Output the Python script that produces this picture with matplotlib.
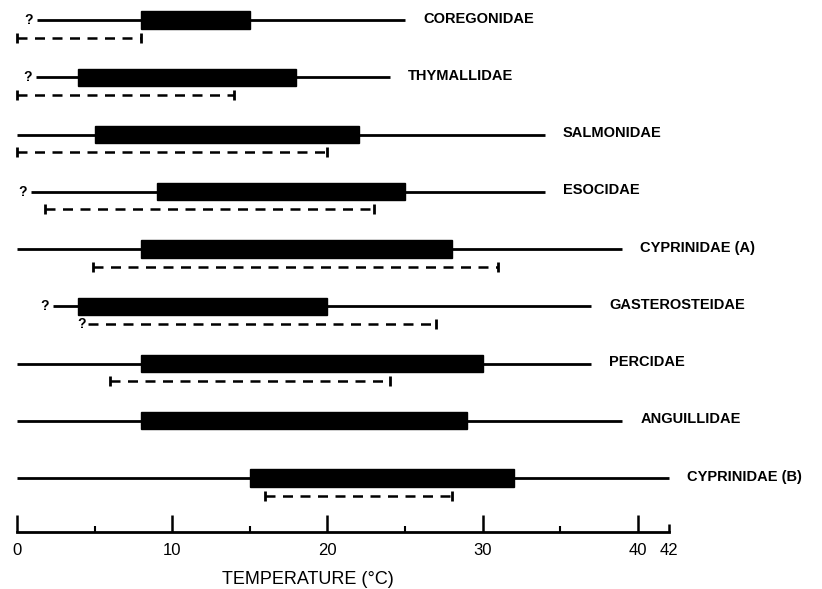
import matplotlib
matplotlib.use("Agg")
import matplotlib.pyplot as plt

families = ["COREGONIDAE", "THYMALLIDAE", "SALMONIDAE", "ESOCIDAE",
            "CYPRINIDAE (A)", "GASTEROSTEIDAE", "PERCIDAE", "ANGUILLIDAE",
            "CYPRINIDAE (B)"]
range_min = [1.3, 1.2, 0.0, 0.9, 0.0, 2.3, 0.0, 0.0, 0.0]
range_max = [25.0, 24.0, 34.0, 34.0, 39.0, 37.0, 37.0, 39.0, 42.0]
range_min_uncertain = [True, True, False, True, False, True, False, False, False]
opt_min = [8.0, 3.9, 5.0, 9.0, 8.0, 3.9, 8.0, 8.0, 15.0]
opt_max = [15.0, 18.0, 22.0, 25.0, 28.0, 20.0, 30.0, 29.0, 32.0]
spawn_min = [0.0, 0.0, 0.0, 1.8, 4.9, 4.6, 6.0, None, 16.0]
spawn_max = [8.0, 14.0, 20.0, 23.0, 31.0, 27.0, 24.0, None, 28.0]
spawn_min_uncertain = [False, False, False, False, False, True, False, False, False]

major_ticks = [0, 10, 20, 30, 40, 42]
minor_ticks = [5, 15, 25, 35]

fig = plt.figure(figsize=(8.22, 5.89), dpi=100)
W, H = 822, 589
x0_px, x42_px, axis_px = 17, 669, 532
ax = fig.add_axes([x0_px / W, 1 - axis_px / H, (x42_px - x0_px) / W, axis_px / H])

row_step_px = 57.25
row0_px = 20
ax.set_xlim(0, 42)
ax.set_ylim((axis_px - row0_px) / row_step_px, -row0_px / row_step_px)

dash_off = 0.31
bar_h = 0.30
lw = 2.0
qfont = dict(fontsize=10, fontweight="bold", family="Liberation Sans")

for i, fam in enumerate(families):
    y = i
    ax.plot([range_min[i], range_max[i]], [y, y], color="black", lw=lw,
            solid_capstyle="butt", clip_on=False)
    ax.barh(y, opt_max[i] - opt_min[i], left=opt_min[i], height=bar_h,
            color="black", edgecolor="black", clip_on=False)
    if range_min_uncertain[i]:
        ax.annotate("?", (range_min[i], y), xytext=(-3, 0),
                    textcoords="offset points", ha="right", va="center", **qfont)
    ax.annotate(fam, (range_max[i], y), xytext=(13, 1),
                textcoords="offset points", ha="left", va="center",
                fontsize=10.5, fontweight="bold", family="Liberation Sans",
                annotation_clip=False)
    if spawn_min[i] is not None:
        yd = y + dash_off
        ax.plot([spawn_min[i], spawn_max[i]], [yd, yd], color="black", lw=1.8,
                linestyle=(0, (4, 3)), clip_on=False)
        if spawn_min_uncertain[i]:
            ax.annotate("?", (spawn_min[i], yd), xytext=(-2, 0),
                        textcoords="offset points", ha="right", va="center", **qfont)
        else:
            ax.plot([spawn_min[i]], [yd], marker="|", markersize=7, mew=2,
                    color="black", clip_on=False)
        ax.plot([spawn_max[i]], [yd], marker="|", markersize=7, mew=2,
                color="black", clip_on=False)

for s in ["top", "right", "left"]:
    ax.spines[s].set_visible(False)
ax.spines["bottom"].set_linewidth(2)
ax.set_yticks([])
ax.set_xticks(major_ticks)
ax.set_xticks(minor_ticks, minor=True)
ax.set_xticklabels([str(t) for t in major_ticks], fontsize=12, family="Liberation Sans")
ax.tick_params(axis="x", which="major", direction="in", length=12, width=1.8, pad=8)
ax.tick_params(axis="x", which="minor", direction="in", length=4, width=1.5)
ticks = ax.xaxis.get_major_ticks()
ticks[-1].tick1line.set_markersize(5.5)

ax.set_xlabel("TEMPERATURE (°C)", fontsize=13, family="Liberation Sans")
ax.xaxis.set_label_coords((308 - x0_px) / (x42_px - x0_px), -48 / axis_px)
ax.xaxis.label.set_verticalalignment("center")

fig.savefig("out.png", dpi=100)
